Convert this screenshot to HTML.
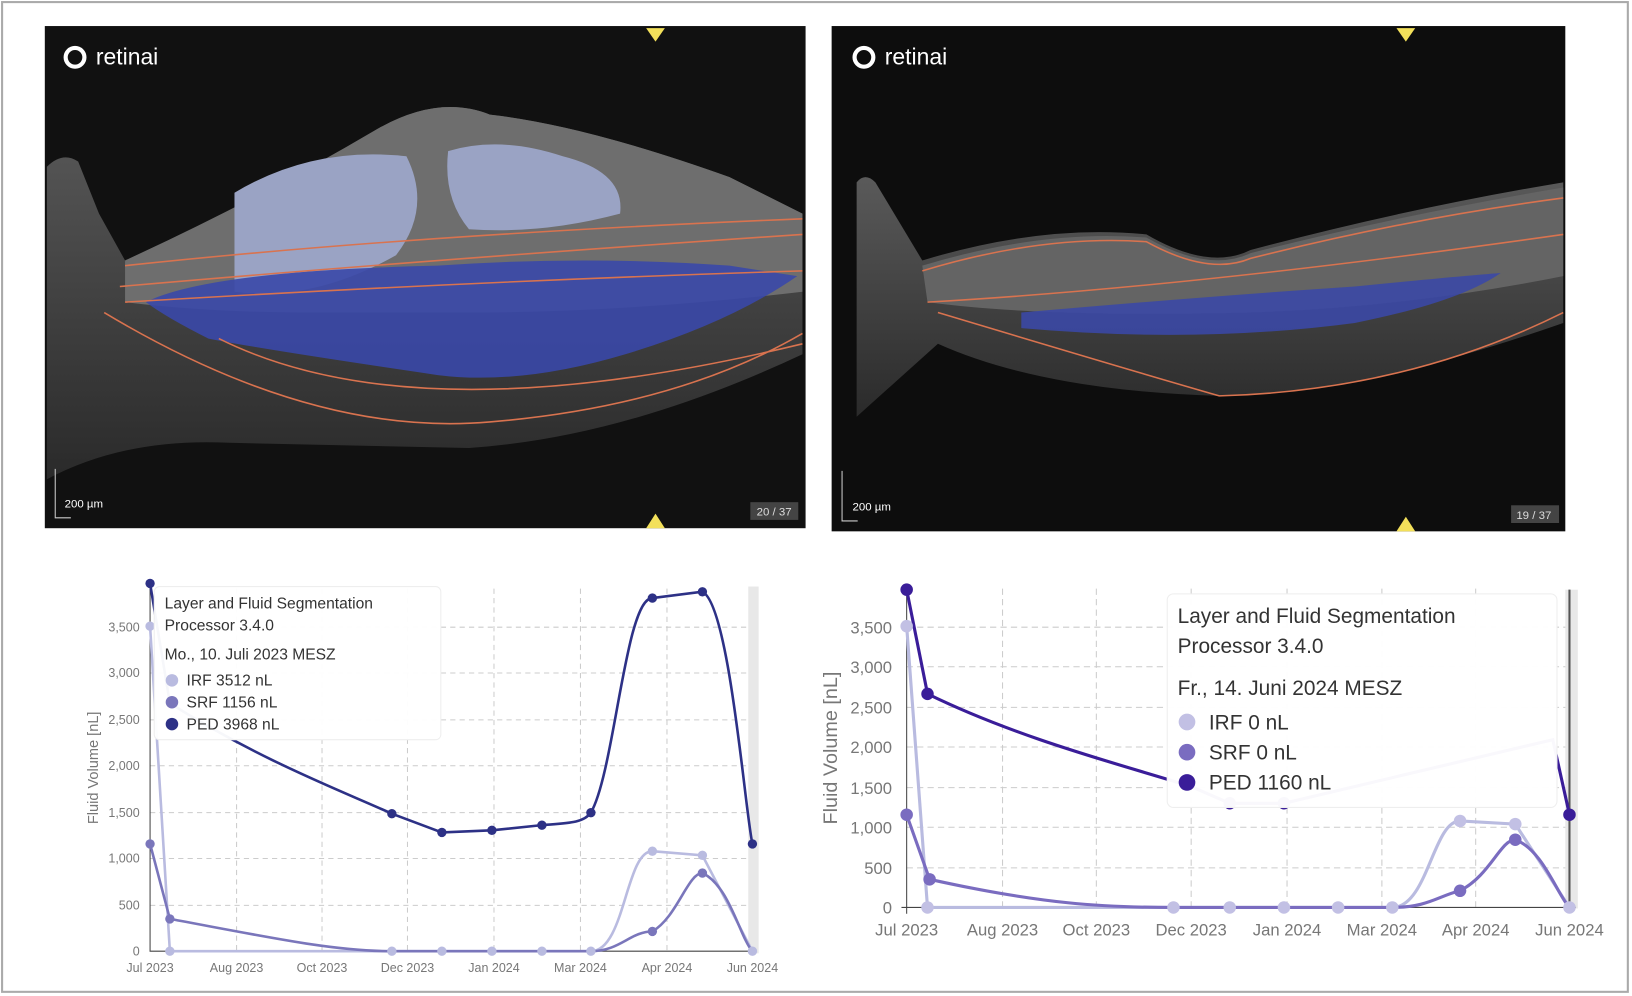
<!DOCTYPE html>
<html><head><meta charset="utf-8"><style>
body{margin:0;background:#fff;}
svg{display:block;font-family:"Liberation Sans",sans-serif;}
</style></head><body>
<svg width="1632" height="996" viewBox="0 0 1566 956" preserveAspectRatio="none">
<defs>
<linearGradient id="dk" x1="0" y1="0" x2="0" y2="1"><stop offset="0" stop-color="#5a5a5a"/><stop offset="1" stop-color="#2a2a2a"/></linearGradient>
</defs>
<rect x="2" y="2" width="1560" height="950" fill="#fff" stroke="#aaa" stroke-width="2"/>
<!-- Left OCT -->
<rect x="43" y="25" width="730" height="482" fill="#111"/>
<path d="M45,160 Q60,145 75,155 L95,205 L120,250 Q250,190 360,125 Q420,90 470,110 Q560,120 700,170 L770,205 L770,340 Q600,420 450,430 L220,425 Q120,420 45,460 Z" fill="url(#dk)"/>
<path d="M120,250 Q250,190 360,125 Q420,90 470,110 Q560,120 700,170 L770,205 L770,280 Q600,300 450,300 L300,300 Q200,300 120,290 Z" fill="#6e6e6e"/>
<path d="M225,185 Q300,140 390,150 Q415,200 380,245 Q300,290 225,280 Z" fill="#9aa3c4"/>
<path d="M430,145 Q480,130 540,150 Q600,165 595,205 Q520,225 450,220 Q425,190 430,145 Z" fill="#9aa3c4"/>
<path d="M140,290 Q200,260 420,255 Q560,245 700,255 L765,265 Q700,310 600,340 Q500,370 420,360 Q250,335 200,325 Q160,305 140,290 Z" fill="#3a48a8" opacity="0.9"/>
<path d="M120,255 Q400,225 770,210 M115,275 Q400,250 770,225 M120,290 Q450,270 770,260 M210,325 Q400,420 770,330 M100,300 Q300,420 470,405 Q650,390 770,320" stroke="#d9734f" stroke-width="1.5" fill="none"/>
<text x="92" y="62" fill="#fff" font-size="22">retinai</text>
<circle cx="72" cy="55" r="9" fill="none" stroke="#fff" stroke-width="4"/>
<text x="62" y="487" fill="#fff" font-size="11">200 µm</text>
<path d="M53,450 V497 H68" stroke="#ccc" fill="none"/>
<rect x="720" y="482" width="46" height="17" fill="#444"/><text x="726" y="495" fill="#ddd" font-size="11">20 / 37</text>
<polygon points="620,27 638,27 629,40" fill="#f3e05a"/><polygon points="620,507 638,507 629,493" fill="#f3e05a"/>
<!-- Right OCT -->
<rect x="798" y="25" width="704" height="485" fill="#0d0d0d"/>
<path d="M822,175 Q830,165 840,175 L885,250 Q1000,215 1100,225 Q1160,260 1200,240 Q1350,200 1500,175 L1500,310 Q1300,380 1170,380 Q1000,375 900,330 L822,400 Z" fill="url(#dk)"/>
<path d="M885,255 Q1000,220 1100,228 Q1160,262 1200,243 Q1350,205 1500,180 L1500,265 Q1350,295 1200,300 Q1000,305 890,290 Z" fill="#646464"/>
<path d="M980,300 Q1150,285 1300,275 Q1400,265 1440,262 Q1400,290 1300,310 Q1150,330 980,315 Z" fill="#3b48a5" opacity="0.9"/>
<path d="M885,260 Q1000,225 1100,232 Q1160,265 1200,248 Q1350,210 1500,190 M890,290 Q1150,275 1500,225 M900,300 Q1100,360 1170,380 Q1350,375 1500,300" stroke="#d9734f" stroke-width="1.5" fill="none"/>
<text x="849" y="62" fill="#fff" font-size="22">retinai</text>
<circle cx="829" cy="55" r="9" fill="none" stroke="#fff" stroke-width="4"/>
<text x="818" y="490" fill="#fff" font-size="11">200 µm</text>
<path d="M808,452 V500 H823" stroke="#ccc" fill="none"/>
<rect x="1450" y="485" width="46" height="17" fill="#444"/><text x="1455" y="498" fill="#ddd" font-size="11">19 / 37</text>
<polygon points="1340,27 1358,27 1349,40" fill="#f3e05a"/><polygon points="1340,510 1358,510 1349,496" fill="#f3e05a"/>

<!-- Left chart -->
<g stroke="#ccc" stroke-dasharray="5,4" stroke-width="1">
<path d="M144,869H725M144,824H725M144,780H725M144,735H725M144,691H725M144,646H725M144,602H725"/>
<path d="M227,565V913M309,565V913M391,565V913M474,565V913M557,565V913M640,565V913M722,565V913"/>
</g>
<rect x="718" y="563" width="10" height="352" fill="#e8e8e8"/>
<path d="M144,560V913H725" stroke="#444" fill="none"/>
<g font-size="12" fill="#777" text-anchor="end">
<text x="134" y="917">0</text><text x="134" y="873">500</text><text x="134" y="828">1,000</text><text x="134" y="784">1,500</text><text x="134" y="739">2,000</text><text x="134" y="695">2,500</text><text x="134" y="650">3,000</text><text x="134" y="606">3,500</text>
</g>
<g font-size="12" fill="#777" text-anchor="middle">
<text x="144" y="933">Jul 2023</text><text x="227" y="933">Aug 2023</text><text x="309" y="933">Oct 2023</text><text x="391" y="933">Dec 2023</text><text x="474" y="933">Jan 2024</text><text x="557" y="933">Mar 2024</text><text x="640" y="933">Apr 2024</text><text x="722" y="933">Jun 2024</text>
</g>
<text transform="translate(94,737) rotate(-90)" font-size="14" fill="#777" text-anchor="middle">Fluid Volume [nL]</text>
<g fill="none" stroke-width="2.5">
<path d="M144,601L163,913L567,913C600,913 600,817 626,817L674,821L722,913" stroke="#b9bbe0"/>
<path d="M144,810L163,882C260,900 320,913 376,913L567,913C595,913 605,894 626,894C650,880 660,838 674,838C700,850 710,900 722,913" stroke="#7a76bb"/>
<path d="M144,560L163,675C250,730 330,760 376,781L424,799L472,797L520,792C545,790 560,790 567,780C590,740 600,574 626,574L674,568C700,580 715,780 722,810" stroke="#2d3186"/>
</g>
<g fill="#b9bbe0"><circle cx="144" cy="601" r="4.5"/><circle cx="163" cy="913" r="4.5"/><circle cx="376" cy="913" r="4.5"/><circle cx="424" cy="913" r="4.5"/><circle cx="472" cy="913" r="4.5"/><circle cx="520" cy="913" r="4.5"/><circle cx="567" cy="913" r="4.5"/><circle cx="626" cy="817" r="4.5"/><circle cx="674" cy="821" r="4.5"/><circle cx="722" cy="913" r="4.5"/></g>
<g fill="#7a76bb"><circle cx="144" cy="810" r="4.5"/><circle cx="163" cy="882" r="4.5"/><circle cx="626" cy="894" r="4.5"/><circle cx="674" cy="838" r="4.5"/></g>
<g fill="#2d3186"><circle cx="144" cy="560" r="4.5"/><circle cx="376" cy="781" r="4.5"/><circle cx="424" cy="799" r="4.5"/><circle cx="472" cy="797" r="4.5"/><circle cx="520" cy="792" r="4.5"/><circle cx="567" cy="780" r="4.5"/><circle cx="626" cy="574" r="4.5"/><circle cx="674" cy="568" r="4.5"/><circle cx="722" cy="810" r="4.5"/></g>
<!-- left legend -->
<rect x="148" y="563" width="275" height="147" rx="5" fill="#fff" fill-opacity="0.96" stroke="#eee"/>
<g font-size="15" fill="#333">
<text x="158" y="584">Layer and Fluid Segmentation</text>
<text x="158" y="605">Processor 3.4.0</text>
<text x="158" y="633">Mo., 10. Juli 2023 MESZ</text>
<text x="179" y="658">IRF 3512 nL</text><text x="179" y="679">SRF 1156 nL</text><text x="179" y="700">PED 3968 nL</text>
</g>
<circle cx="165" cy="653" r="6" fill="#b9bbe0"/><circle cx="165" cy="674" r="6" fill="#7a76bb"/><circle cx="165" cy="695" r="6" fill="#2d3186"/>

<!-- Right chart -->
<g stroke="#ccc" stroke-dasharray="6,4" stroke-width="1">
<path d="M870,833H1510M870,794H1510M870,756H1510M870,717H1510M870,679H1510M870,640H1510M870,602H1510"/>
<path d="M962,565V871M1052,565V871M1143,565V871M1235,565V871M1326,565V871M1416,565V871"/>
</g>
<rect x="1502" y="566" width="12" height="306" fill="#e8e8e8"/>
<path d="M1506,566V871" stroke="#555" stroke-width="2"/>
<path d="M870,566V877M865,871H1512" stroke="#444" fill="none"/>
<g font-size="16" fill="#777" text-anchor="end">
<text x="856" y="877">0</text><text x="856" y="839">500</text><text x="856" y="800">1,000</text><text x="856" y="762">1,500</text><text x="856" y="723">2,000</text><text x="856" y="685">2,500</text><text x="856" y="646">3,000</text><text x="856" y="608">3,500</text>
</g>
<g font-size="16" fill="#777" text-anchor="middle">
<text x="870" y="898">Jul 2023</text><text x="962" y="898">Aug 2023</text><text x="1052" y="898">Oct 2023</text><text x="1143" y="898">Dec 2023</text><text x="1235" y="898">Jan 2024</text><text x="1326" y="898">Mar 2024</text><text x="1416" y="898">Apr 2024</text><text x="1506" y="898">Jun 2024</text>
</g>
<text transform="translate(803,718) rotate(-90)" font-size="19" fill="#777" text-anchor="middle">Fluid Volume [nL]</text>
<g fill="none" stroke-width="3">
<path d="M870,601L890,871L1336,871C1370,871 1375,788 1401,788L1454,791L1506,871" stroke="#b9bbe0"/>
<path d="M870,782L892,844C1000,868 1060,871 1126,871L1336,871C1370,871 1380,860 1401,855C1430,840 1440,806 1454,806C1480,815 1495,860 1506,871" stroke="#7a6cc0"/>
<path d="M870,566L890,666C980,710 1080,735 1143,755L1180,771L1232,771L1490,710L1506,782" stroke="#3a1d99"/>
</g>
<g fill="#c2c0e4"><circle cx="870" cy="601" r="6"/><circle cx="890" cy="871" r="6"/><circle cx="1126" cy="871" r="6"/><circle cx="1180" cy="871" r="6"/><circle cx="1232" cy="871" r="6"/><circle cx="1284" cy="871" r="6"/><circle cx="1336" cy="871" r="6"/><circle cx="1401" cy="788" r="6"/><circle cx="1454" cy="791" r="6"/><circle cx="1506" cy="871" r="6"/></g>
<g fill="#7a6cc0"><circle cx="870" cy="782" r="6"/><circle cx="892" cy="844" r="6"/><circle cx="1401" cy="855" r="6"/><circle cx="1454" cy="806" r="6"/></g>
<g fill="#3a1d99"><circle cx="870" cy="566" r="6"/><circle cx="890" cy="666" r="6"/><circle cx="1180" cy="771" r="6"/><circle cx="1232" cy="771" r="6"/><circle cx="1506" cy="782" r="6"/></g>
<rect x="1120" y="570" width="374" height="205" rx="6" fill="#fff" fill-opacity="0.97" stroke="#eee"/>
<g font-size="20" fill="#333">
<text x="1130" y="598">Layer and Fluid Segmentation</text>
<text x="1130" y="627">Processor 3.4.0</text>
<text x="1130" y="667">Fr., 14. Juni 2024 MESZ</text>
<text x="1160" y="700">IRF 0 nL</text><text x="1160" y="729">SRF 0 nL</text><text x="1160" y="758">PED 1160 nL</text>
</g>
<circle cx="1139" cy="693" r="8" fill="#c2c0e4"/><circle cx="1139" cy="722" r="8" fill="#7a6cc0"/><circle cx="1139" cy="751" r="8" fill="#3a1d99"/>
</svg>
</body></html>
